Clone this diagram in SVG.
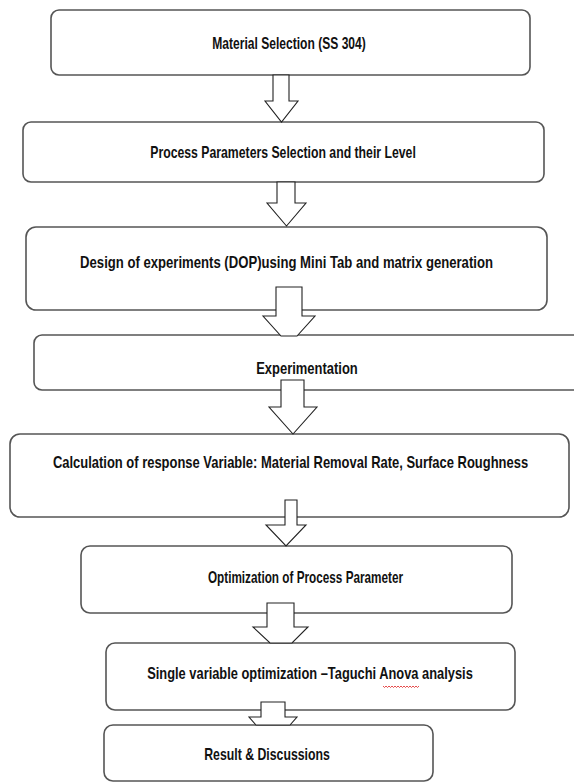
<svg xmlns="http://www.w3.org/2000/svg" width="574" height="782" viewBox="0 0 574 782">
<style>
.box{fill:#fff;stroke:#555;stroke-width:1.6}
.arr{fill:#fff;stroke:#222;stroke-width:1.1;stroke-linejoin:miter}
.t{font-family:"Liberation Sans",Arial,sans-serif;font-weight:bold;font-size:16px;fill:#111;text-anchor:middle}
.sq{fill:none;stroke:#e02020;stroke-width:0.8}
</style>
<rect width="574" height="782" fill="#fff"/>
<g id="nodes">
<g id="n1"><rect class="box" x="51" y="10" width="479" height="65" rx="8"/><text class="t" transform="translate(289,49) scale(0.8,1)" textLength="192" lengthAdjust="spacingAndGlyphs">Material Selection (SS 304)</text></g>
<g id="n2"><rect class="box" x="23" y="122" width="521" height="60" rx="8"/><text class="t" transform="translate(283,158) scale(0.8,1)" textLength="332" lengthAdjust="spacingAndGlyphs">Process Parameters Selection and their Level</text></g>
<g id="n3"><rect class="box" x="26" y="227" width="521" height="83" rx="10"/><text class="t" transform="translate(286.5,268) scale(0.8,1)" textLength="516" lengthAdjust="spacingAndGlyphs">Design of experiments (DOP)using Mini Tab and matrix generation</text></g>
<g id="n4"><rect class="box" x="34" y="335" width="560" height="55" rx="8"/><text class="t" transform="translate(307,374) scale(0.8,1)" textLength="127" lengthAdjust="spacingAndGlyphs">Experimentation</text></g>
<g id="n5"><rect class="box" x="10" y="434" width="559" height="83" rx="10"/><text class="t" transform="translate(290.5,468) scale(0.8,1)" textLength="594" lengthAdjust="spacingAndGlyphs">Calculation of response Variable: Material Removal Rate, Surface Roughness</text></g>
<g id="n6"><rect class="box" x="81" y="546" width="431" height="67" rx="9"/><text class="t" transform="translate(305.5,583) scale(0.8,1)" textLength="244" lengthAdjust="spacingAndGlyphs">Optimization of Process Parameter</text></g>
<g id="n7"><rect class="box" x="106" y="643" width="409" height="67" rx="9"/><text class="t" transform="translate(310,679) scale(0.8,1)" textLength="407" lengthAdjust="spacingAndGlyphs">Single variable optimization –Taguchi Anova analysis</text><path class="sq" d="M383,686 l1.5,1.5 l1.5,-1.5 l1.5,1.5 l1.5,-1.5 l1.5,1.5 l1.5,-1.5 l1.5,1.5 l1.5,-1.5 l1.5,1.5 l1.5,-1.5 l1.5,1.5 l1.5,-1.5 l1.5,1.5 l1.5,-1.5 l1.5,1.5 l1.5,-1.5 l1.5,1.5 l1.5,-1.5 l1.5,1.5 l1.5,-1.5 l1.5,1.5 l1.5,-1.5 l1.5,1.5 l1.5,-1.5"/></g>
<g id="n8"><rect class="box" x="104" y="725" width="329" height="56" rx="9"/><text class="t" transform="translate(267,760) scale(0.8,1)" textLength="157" lengthAdjust="spacingAndGlyphs">Result &amp; Discussions</text></g>
</g>
<g id="connectors">
<path class="arr" d="M273,75 H289 V101 H298 L281.5,122 L265,101 H273 Z"/>
<path class="arr" d="M277,182 H295 V203 H306 L286.5,226 L267,203 H277 Z"/>
<path class="arr" d="M276,287 H302 V316 H315 L297,336 H281 L263,316 H276 Z"/>
<path class="arr" d="M281,380 H304 V407 H317 L293,434 L269,407 H281 Z"/>
<path class="arr" d="M285,500 H297 V525 H306 L286,546 L266,525 H285 Z"/>
<path class="arr" d="M267,603 H294 V627 H308 L292,643 H270 L253,627 H267 Z"/>
<path class="arr" d="M261,702 H285 V717 H297 L290,725 H256 L249,717 H261 Z"/>
</g>
</svg>
